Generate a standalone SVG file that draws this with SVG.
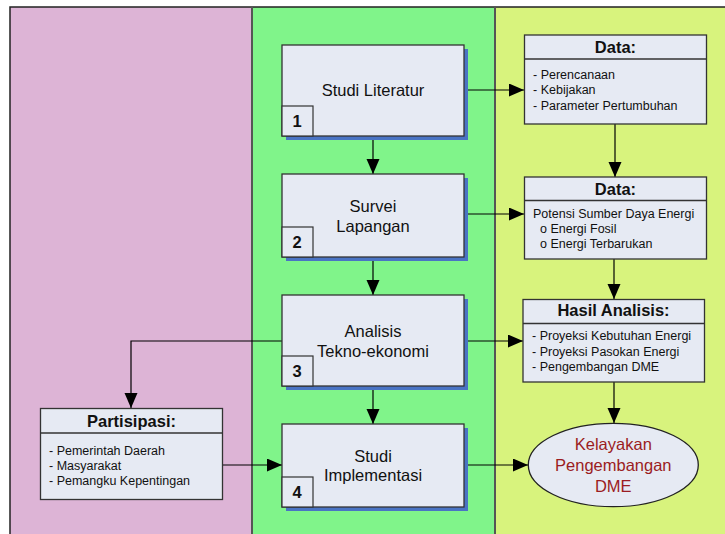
<svg xmlns="http://www.w3.org/2000/svg" width="725" height="534" viewBox="0 0 725 534">
<defs>
<marker id="ah" markerUnits="userSpaceOnUse" markerWidth="16" markerHeight="14" refX="15" refY="6.5" orient="auto">
<path d="M0,0 L15,6.5 L0,13 Z" fill="#000"/>
</marker>
<style>
.box{fill:#E6EAF3;stroke:#333;stroke-width:1.3}
.sh{fill:#4A74C4}
.num{fill:#E6EAF3;stroke:#333;stroke-width:1.2}
.t{font-family:"Liberation Sans",Arial,sans-serif;font-size:16.5px;fill:#111;text-anchor:middle}
.n{font-family:"Liberation Sans",Arial,sans-serif;font-size:16.5px;font-weight:bold;fill:#111;text-anchor:middle}
.h{font-family:"Liberation Sans",Arial,sans-serif;font-size:16.5px;font-weight:bold;fill:#111;text-anchor:middle}
.i{font-family:"Liberation Sans",Arial,sans-serif;font-size:12.5px;fill:#111}
.e{font-family:"Liberation Sans",Arial,sans-serif;font-size:16.5px;fill:#9B1C22;text-anchor:middle}
.c{fill:none;stroke:#000;stroke-width:1.2}
</style>
</defs>
<rect x="0" y="0" width="725" height="534" fill="#fff"/>
<g id="lanes">
<rect x="10" y="7" width="242" height="530" fill="#DDB4D6"/>
<rect x="252" y="7" width="243" height="530" fill="#80F48A"/>
<rect x="495" y="7" width="232" height="530" fill="#D8F37D"/>
<path d="M10,537 V7 H727" fill="none" stroke="#222" stroke-width="1.5"/>
<line x1="252" y1="7" x2="252" y2="537" stroke="#555" stroke-width="2"/>
<line x1="495" y1="7" x2="495" y2="537" stroke="#555" stroke-width="2"/>
</g>
<g id="connectors">
<line class="c" x1="373" y1="136" x2="373" y2="174" marker-end="url(#ah)"/>
<line class="c" x1="373" y1="257" x2="373" y2="295" marker-end="url(#ah)"/>
<line class="c" x1="373" y1="386" x2="373" y2="424" marker-end="url(#ah)"/>
<line class="c" x1="464" y1="90" x2="524" y2="90" marker-end="url(#ah)"/>
<line class="c" x1="464" y1="214" x2="524" y2="214" marker-end="url(#ah)"/>
<line class="c" x1="464" y1="341" x2="523" y2="341" marker-end="url(#ah)"/>
<line class="c" x1="464" y1="465" x2="528" y2="465" marker-end="url(#ah)"/>
<line class="c" x1="615" y1="124" x2="615" y2="177" marker-end="url(#ah)"/>
<line class="c" x1="614" y1="259" x2="614" y2="299" marker-end="url(#ah)"/>
<line class="c" x1="614" y1="382" x2="614" y2="423" marker-end="url(#ah)"/>
<polyline class="c" points="282,341 131,341 131,408" marker-end="url(#ah)"/>
<line class="c" x1="222" y1="465" x2="282" y2="465" marker-end="url(#ah)"/>
</g>
<g id="n1">
<rect class="sh" x="286" y="49" width="182" height="91"/>
<rect class="box" x="282" y="45" width="182" height="91"/>
<rect class="num" x="282" y="106" width="31" height="30"/>
<text class="t" x="373" y="96">Studi Literatur</text>
<text class="n" x="297" y="127">1</text>
</g>
<g id="n2">
<rect class="sh" x="286" y="178" width="182" height="83"/>
<rect class="box" x="282" y="174" width="182" height="83"/>
<rect class="num" x="282" y="227" width="31" height="30"/>
<text class="t" x="373" y="211.5">Survei</text>
<text class="t" x="373" y="231.5">Lapangan</text>
<text class="n" x="297" y="248">2</text>
</g>
<g id="n3">
<rect class="sh" x="286" y="299" width="182" height="91"/>
<rect class="box" x="282" y="295" width="182" height="91"/>
<rect class="num" x="282" y="356" width="31" height="30"/>
<text class="t" x="373" y="336.5">Analisis</text>
<text class="t" x="373" y="356.5">Tekno-ekonomi</text>
<text class="n" x="297" y="377">3</text>
</g>
<g id="n4">
<rect class="sh" x="286" y="428" width="182" height="83"/>
<rect class="box" x="282" y="424" width="182" height="83"/>
<rect class="num" x="282" y="477" width="31" height="30"/>
<text class="t" x="373" y="461.5">Studi</text>
<text class="t" x="373" y="481">Implementasi</text>
<text class="n" x="297" y="498">4</text>
</g>
<g id="data1">
<rect class="box" x="524.5" y="35" width="182" height="89"/>
<line x1="524.5" y1="59" x2="706.5" y2="59" stroke="#333" stroke-width="1.3"/>
<text class="h" x="615.5" y="52.5">Data:</text>
<text class="i" x="533" y="79">- Perencanaan</text>
<text class="i" x="533" y="94">- Kebijakan</text>
<text class="i" x="533" y="109.5">- Parameter Pertumbuhan</text>
</g>
<g id="data2">
<rect class="box" x="524.5" y="177" width="182" height="82"/>
<line x1="524.5" y1="200.5" x2="706.5" y2="200.5" stroke="#333" stroke-width="1.3"/>
<text class="h" x="615.5" y="195">Data:</text>
<text class="i" x="533" y="217.5">Potensi Sumber Daya Energi</text>
<text class="i" x="540" y="233">o Energi Fosil</text>
<text class="i" x="540" y="247.5">o Energi Terbarukan</text>
</g>
<g id="hasil">
<rect class="box" x="523" y="299.5" width="181.5" height="82.5"/>
<line x1="523" y1="323.5" x2="704.5" y2="323.5" stroke="#333" stroke-width="1.3"/>
<text class="h" x="613.5" y="316">Hasil Analisis:</text>
<text class="i" x="532" y="340">- Proyeksi Kebutuhan Energi</text>
<text class="i" x="532" y="356">- Proyeksi Pasokan Energi</text>
<text class="i" x="532" y="371">- Pengembangan DME</text>
</g>
<g id="partisipasi">
<rect class="box" x="40.5" y="408.5" width="182" height="91"/>
<line x1="40.5" y1="433" x2="222.5" y2="433" stroke="#333" stroke-width="1.3"/>
<text class="h" x="131.5" y="427">Partisipasi:</text>
<text class="i" x="49" y="455">- Pemerintah Daerah</text>
<text class="i" x="49" y="470">- Masyarakat</text>
<text class="i" x="49" y="485">- Pemangku Kepentingan</text>
</g>
<g id="kelayakan">
<ellipse cx="613.3" cy="465" rx="85" ry="41.7" fill="#E6EAF3" stroke="#222" stroke-width="1.3"/>
<text class="e" x="613.3" y="450">Kelayakan</text>
<text class="e" x="613.3" y="471">Pengembangan</text>
<text class="e" x="613.3" y="492">DME</text>
</g>
</svg>
